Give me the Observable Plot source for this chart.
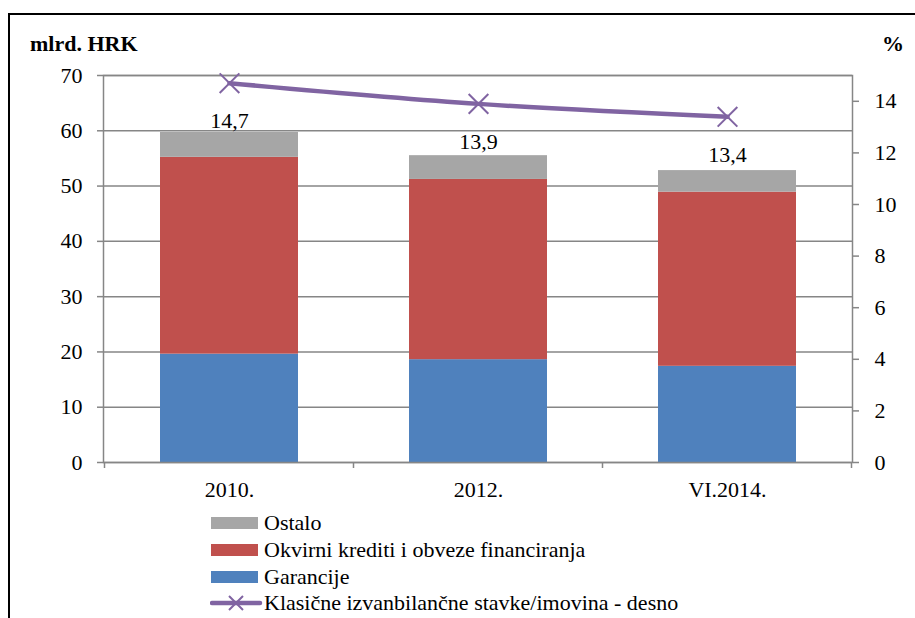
<!DOCTYPE html>
<html>
<head>
<meta charset="utf-8">
<script src="https://cdn.jsdelivr.net/npm/d3@7"></script>
<script src="https://cdn.jsdelivr.net/npm/@observablehq/plot@0.6"></script>
<style>
  html, body { margin: 0; padding: 0; background: #fff; }
  #wrap { position: relative; width: 915px; height: 618px; overflow: hidden; font-family: "Liberation Serif", "DejaVu Serif", serif; color: #000; }
  #frame { position: absolute; left: 8px; top: 13px; width: 920px; height: 620px; border-top: 2px solid #000; border-left: 2px solid #000; box-sizing: border-box; pointer-events: none; }
  .title { position: absolute; font-weight: bold; font-size: 22px; line-height: 22px; }
  #chart { position: absolute; left: 0; top: 0; }
  #legend { position: absolute; left: 210px; top: 510px; font-size: 22px; }
  .row { display: flex; align-items: center; height: 26.7px; }
  .sw { width: 47px; height: 12px; margin-right: 6px; margin-left: 1px; }
</style>
</head>
<body>
<div id="wrap">
  <div id="chart"></div>
  <div id="frame"></div>
  <div class="title" style="left:30px; top:33px;">mlrd. HRK</div>
  <div class="title" style="left:882px; top:33px;">%</div>
  <div id="legend"></div>
</div>
<script>
// ---- data ----
const categories = ["2010.", "2012.", "VI.2014."];
const seriesNames = ["Garancije", "Okvirni krediti i obveze financiranja", "Ostalo"];
const garancije = [19.6, 18.6, 17.4];
const okvirni = [35.6, 32.6, 31.5];
const ostalo = [4.5, 4.3, 3.9];
const ratioName = "Klasične izvanbilančne stavke/imovina - desno";
const ratio = [14.7, 13.9, 13.4];
const leftTicks = [0, 10, 20, 30, 40, 50, 60, 70];
const rightTicks = [0, 2, 4, 6, 8, 10, 12, 14];
const leftMax = 70, rightMax = 15;

const colors = {"Garancije": "#4F81BD", "Okvirni krediti i obveze financiranja": "#C0504D", "Ostalo": "#A6A6A6"};
const lineColor = "#8064A2";
const gridColor = "#868686";
const fontFam = "'Liberation Serif', 'DejaVu Serif', serif";

const k = leftMax / rightMax;
const barData = [];
const values = [garancije, okvirni, ostalo];
seriesNames.forEach((s, i) => categories.forEach((c, j) => barData.push({cat: c, series: s, value: values[i][j]})));
const lineData = categories.map((c, j) => ({cat: c, v: ratio[j], y: ratio[j] * k}));

const fmt = v => v.toFixed(1).replace(".", ",");

const plot = Plot.plot({
  width: 915,
  height: 618,
  marginLeft: 103,
  marginRight: 63,
  marginTop: 75,
  marginBottom: 156,
  style: {fontFamily: fontFam, fontSize: "22px", color: "#000", background: "transparent", overflow: "visible"},
  x: {domain: categories, paddingInner: 0.447, paddingOuter: 0.2235, label: null},
  y: {domain: [0, leftMax], label: null},
  color: {domain: seriesNames, range: seriesNames.map(s => colors[s])},
  marks: [
    Plot.gridY(leftTicks, {stroke: gridColor, strokeOpacity: 1, strokeWidth: 1.5}),
    Plot.barY(barData, {x: "cat", y: "value", fill: "series"}),
    Plot.frame({stroke: gridColor, strokeWidth: 1.5}),
    Plot.axisY(leftTicks, {anchor: "left", tickSize: 6, tickPadding: 15, stroke: gridColor, strokeWidth: 1.5, label: null, fill: "#000", fontFamily: fontFam}),
    Plot.axisY(rightTicks.map(t => t * k), {anchor: "right", tickSize: 6, tickPadding: 16, stroke: gridColor, strokeWidth: 1.5, label: null, tickFormat: d => String(Math.round(d / k)), fill: "#000", fontFamily: fontFam}),
    Plot.axisX({tickSize: 0, tickPadding: 19, label: null, fill: "#000", fontFamily: fontFam}),
    Plot.line(lineData, {x: "cat", y: "y", stroke: lineColor, strokeWidth: 4.5, curve: "monotone-x"}),
    Plot.dot(lineData, {x: "cat", y: "y", symbol: "times", r: 9, stroke: lineColor, strokeWidth: 2}),
    Plot.text(lineData, {x: "cat", y: "y", text: d => fmt(d.v), dy: 38, fill: "#000", fontFamily: fontFam})
  ]
});

// category boundary tick marks on the x axis, placed with the plot's own scales
const xs = plot.scale("x"), ys = plot.scale("y");
const y0 = ys.apply(0);
const bounds = categories.map(c => xs.apply(c) - (xs.step - xs.bandwidth) / 2);
bounds.push(xs.apply(categories[categories.length - 1]) + xs.bandwidth + (xs.step - xs.bandwidth) / 2);
d3.select(plot).append("g").selectAll("line").data(bounds).join("line")
  .attr("x1", d => d).attr("x2", d => d).attr("y1", y0).attr("y2", y0 + 6)
  .attr("stroke", gridColor).attr("stroke-width", 1.5);

document.getElementById("chart").appendChild(plot);

// legend
const legend = document.getElementById("legend");
[...seriesNames].reverse().forEach(s => {
  const row = document.createElement("div");
  row.className = "row";
  row.innerHTML = `<div class="sw" style="background:${colors[s]}"></div><span>${s}</span>`;
  legend.appendChild(row);
});
const lrow = document.createElement("div");
lrow.className = "row";
lrow.innerHTML = `<svg width="54" height="20" style="margin-right:0px"><line x1="2" y1="10" x2="50" y2="10" stroke="${lineColor}" stroke-width="4.5" stroke-linecap="round"/><path d="M19,3L33,17M33,3L19,17" stroke="${lineColor}" stroke-width="2"/></svg><span>${ratioName}</span>`;
legend.appendChild(lrow);
</script>
</body>
</html>
